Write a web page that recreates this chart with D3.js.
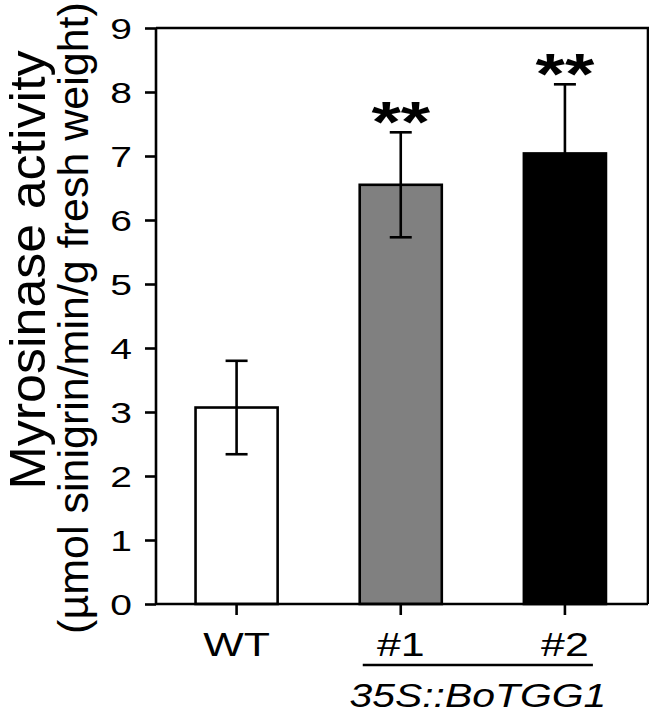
<!DOCTYPE html>
<html>
<head>
<meta charset="utf-8">
<script src="https://cdn.jsdelivr.net/npm/d3@7"></script>
<style>
  html, body { margin: 0; padding: 0; background: #fff; }
  svg { display: block; }
  text { font-family: "Liberation Sans", Arial, sans-serif; fill: #000; }
</style>
</head>
<body>
<svg id="chart" width="649" height="714"></svg>
<script>
// ---- data ----
const categories = ["WT", "#1", "#2"];
const values = [3.07, 6.55, 7.04];
const errors = [0.73, 0.82, 1.08];
const fills = ["#ffffff", "#808080", "#000000"];
const significance = ["", "**", "**"];
const yTicks = [0, 1, 2, 3, 4, 5, 6, 7, 8, 9];
const yTitle1 = "Myrosinase activity";
const yTitle2 = "(\u00b5mol sinigrin/min/g fresh weight)";
const groupLabel = "35S::BoTGG1";

// ---- layout ----
const mLeft = 156, mRight = 648, mTop = 28, mBottom = 604;
const sx = 1.3; // horizontal stretch of the original figure's text

const svg = d3.select("#chart");

const x = d3.scaleBand().domain(categories).range([154.5, 647]).paddingInner(0).paddingOuter(0);
const y = d3.scaleLinear().domain([0, 9]).range([mBottom, mTop]);
const bw = x.bandwidth() * 0.5;
const xc = d => x(d) + x.bandwidth() / 2;

// frame (top + right)
svg.append("path")
  .attr("d", `M${mLeft},${mTop}H${mRight}V${mBottom}`)
  .attr("fill", "none").attr("stroke", "#000").attr("stroke-width", 2.6);

// bars
svg.selectAll("rect.bar").data(categories).join("rect")
  .attr("class", "bar")
  .attr("x", d => xc(d) - bw / 2)
  .attr("width", bw)
  .attr("y", (d, i) => y(values[i]))
  .attr("height", (d, i) => y(0) - y(values[i]))
  .attr("fill", (d, i) => fills[i])
  .attr("stroke", "#000").attr("stroke-width", 2.6);

// error bars
const eb = svg.append("g").attr("stroke", "#000").attr("stroke-width", 2.6).attr("fill", "none");
categories.forEach((d, i) => {
  const cx = xc(d);
  const y1 = y(values[i] + errors[i]), y0 = y(values[i] - errors[i]);
  eb.append("line").attr("x1", cx).attr("x2", cx).attr("y1", y1).attr("y2", y0);
  eb.append("line").attr("x1", cx - 11).attr("x2", cx + 11).attr("y1", y1).attr("y2", y1);
  eb.append("line").attr("x1", cx - 11).attr("x2", cx + 11).attr("y1", y0).attr("y2", y0);
});

// significance stars
categories.forEach((d, i) => {
  if (!significance[i]) return;
  svg.append("text")
    .attr("transform", `translate(${xc(d)},${y(values[i] + errors[i]) + 10}) scale(${sx},1)`)
    .attr("text-anchor", "middle")
    .attr("font-size", 58).attr("font-weight", "bold")
    .text(significance[i]);
});

// y axis
const yAxis = svg.append("g").attr("transform", `translate(${mLeft},0)`)
  .call(d3.axisLeft(y).tickValues(yTicks).tickSize(11).tickSizeOuter(0).tickFormat(d3.format("d")));
yAxis.select(".domain").attr("stroke-width", 2.6).attr("d", `M0,${mBottom}V${mTop}`);
yAxis.selectAll(".tick line").attr("stroke-width", 2.6);
yAxis.selectAll(".tick text")
  .attr("x", null).attr("dy", "0.36em")
  .attr("transform", `translate(-24,0) scale(${sx},1)`)
  .attr("font-size", 30).attr("font-family", "Liberation Sans, Arial, sans-serif")
  .attr("text-anchor", "end");

// x axis
const xAxis = svg.append("g").attr("transform", `translate(0,${mBottom})`)
  .call(d3.axisBottom(x).tickSize(11).tickSizeOuter(0));
xAxis.select(".domain").attr("stroke-width", 2.6).attr("d", `M${mLeft},0H${mRight}`);
xAxis.selectAll(".tick line").attr("stroke-width", 2.6);
xAxis.selectAll(".tick text")
  .attr("y", null).attr("dy", null)
  .attr("transform", `translate(0,52) scale(${sx},1)`)
  .attr("font-size", 33).attr("font-family", "Liberation Sans, Arial, sans-serif")
  .attr("text-anchor", "middle");

// group underline and label
svg.append("line")
  .attr("x1", xc("#1") - 38).attr("x2", xc("#2") + 28)
  .attr("y1", 665).attr("y2", 665)
  .attr("stroke", "#000").attr("stroke-width", 2.6);
svg.append("text")
  .attr("transform", `translate(${(xc("#1") + xc("#2")) / 2 - 5},707) scale(1.24,1)`)
  .attr("text-anchor", "middle").attr("font-size", 33).attr("font-style", "italic")
  .text(groupLabel);

// y title (two lines, rotated)
svg.append("text")
  .attr("transform", `translate(45,270) rotate(-90) scale(1.04,1)`)
  .attr("text-anchor", "middle").attr("font-size", 50)
  .text(yTitle1);
svg.append("text")
  .attr("transform", `translate(88,318) rotate(-90)`)
  .attr("text-anchor", "middle").attr("font-size", 43)
  .text(yTitle2);
</script>
</body>
</html>
